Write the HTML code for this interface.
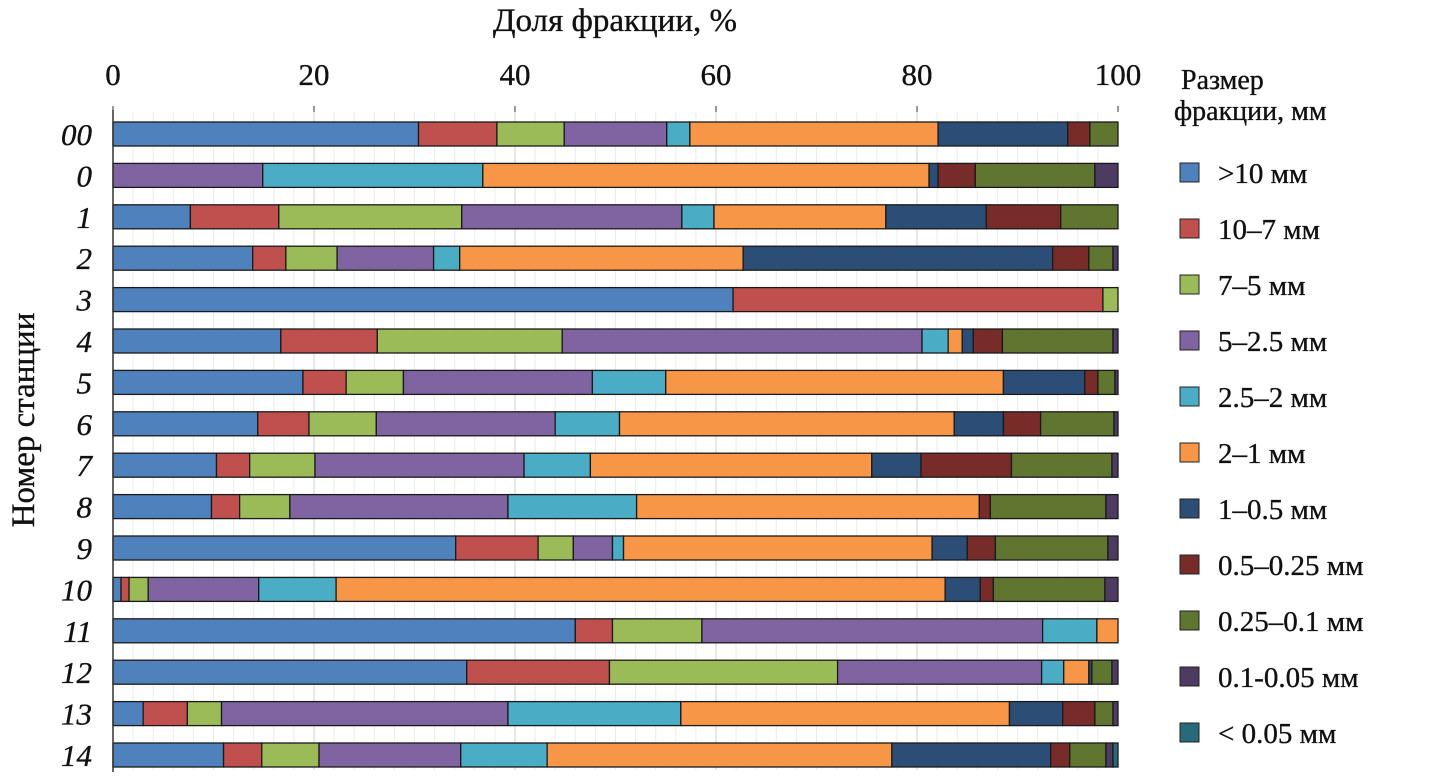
<!DOCTYPE html>
<html><head><meta charset="utf-8"><style>
html,body{margin:0;padding:0;background:#fff;width:1436px;height:780px;overflow:hidden}
svg text{font-family:"Liberation Serif",serif;fill:#111;stroke:#111;stroke-width:0.35}
</style></head><body>
<svg id="chart" width="1436" height="780">
<g id="grid"></g><g id="bars"></g><g id="axes"></g><g id="legend"></g>
</svg>
<script>
const stations=["00","0","1","2","3","4","5","6","7","8","9","10","11","12","13","14"];
const classes=[">10 мм","10–7 мм","7–5 мм","5–2.5 мм","2.5–2 мм","2–1 мм","1–0.5 мм","0.5–0.25 мм","0.25–0.1 мм","0.1-0.05 мм","< 0.05 мм"];
const colors=["#4f81bd","#c0504d","#9bbb59","#8064a2","#4bacc6","#f79646","#2c4d75","#772c2a","#5f7530","#4d3b62","#276a7c"];
const s00=[30.4,7.8,6.7,10.2,2.3,24.7,12.9,2.2,2.8,0,0];
const s0=[0,0,0,14.9,21.9,44.4,0.9,3.7,11.9,2.3,0];
const s1=[7.7,8.8,18.2,21.9,3.2,17.1,10.0,7.4,5.7,0,0];
const s2=[13.9,3.3,5.1,9.6,2.6,28.2,30.8,3.6,2.4,0.5,0];
const s3=[61.7,36.8,1.5,0,0,0,0,0,0,0,0];
const s4=[16.7,9.6,18.4,35.8,2.6,1.4,1.1,2.9,11.0,0.5,0];
const s5=[18.9,4.3,5.7,18.8,7.3,33.6,8.1,1.3,1.7,0.3,0];
const s6=[14.4,5.1,6.7,17.8,6.4,33.3,4.9,3.7,7.3,0.4,0];
const s7=[10.3,3.3,6.5,20.8,6.6,28.0,4.9,9.0,10.0,0.6,0];
const s8=[9.8,2.8,5.0,21.7,12.8,34.1,0,1.1,11.5,1.2,0];
const s9=[34.1,8.2,3.5,3.9,1.1,30.7,3.5,2.8,11.2,1.0,0];
const s10=[0.8,0.8,1.9,11.0,7.7,60.6,3.5,1.3,11.1,1.3,0];
const s11=[46.0,3.7,8.9,33.9,5.4,2.1,0,0,0,0,0];
const s12=[35.2,14.2,22.7,20.3,2.2,2.5,0.3,0,2.0,0.6,0];
const s13=[3.0,4.4,3.4,28.5,17.2,32.7,5.3,3.2,1.8,0.5,0];
const s14=[11.0,3.8,5.7,14.1,8.6,34.3,15.8,1.9,3.6,0.7,0.5];
const rows=[s00,s0,s1,s2,s3,s4,s5,s6,s7,s8,s9,s10,s11,s12,s13,s14];
const ticks=[0,20,40,60,80,100];

const NS="http://www.w3.org/2000/svg";
const X0=113,X1=1118,Y0=134,DY=41.4,BH=24;
const x=v=>X0+(X1-X0)*v/100;
const y=i=>Y0+i*DY;
function mk(tag,attrs,parent){const e=document.createElementNS(NS,tag);for(const k in attrs)e.setAttribute(k,attrs[k]);parent.appendChild(e);return e;}
const grid=document.getElementById('grid'),bars=document.getElementById('bars'),axes=document.getElementById('axes'),leg=document.getElementById('legend');
for(let v=2;v<100;v+=2){const l=mk('line',{x1:x(v),x2:x(v),y1:112,y2:770,stroke:v%20==0?'#d0d0d0':'#ececec','stroke-width':1},grid);

}
rows.forEach((r,i)=>{let c=0;const g=mk('g',{},bars);


r.forEach((v,k)=>{if(v<=0)return;const rc=mk('rect',{x:x(c),y:y(i)-BH/2,width:x(c+v)-x(c),height:BH,fill:colors[k],stroke:'#1a1a1a','stroke-width':1.3},g);


c+=v;});
const t=mk('text',{x:92,y:y(i)+11,'text-anchor':'end','font-size':31,'font-style':'italic'},axes);t.textContent=stations[i];

});
const al=mk('line',{x1:X0,x2:X0,y1:110,y2:772,stroke:'#333','stroke-width':1.5},axes);


ticks.forEach(v=>{const tk=mk('line',{x1:x(v),x2:x(v),y1:106,y2:112,stroke:'#333'},axes);


const t=mk('text',{x:x(v),y:85,'text-anchor':'middle','font-size':31},axes);t.textContent=v;

});
const xt=mk('text',{x:615,y:31,'text-anchor':'middle','font-size':33},axes);xt.textContent='Доля фракции, %';


const yt=mk('text',{x:0,y:0,'text-anchor':'middle','font-size':33,transform:'translate(34,420) rotate(-90)'},axes);yt.textContent='Номер станции';


const lt1=mk('text',{x:1181,y:89,'font-size':28},leg);lt1.textContent='Размер';


const lt2=mk('text',{x:1174,y:120,'font-size':28},leg);lt2.textContent='фракции, мм';


classes.forEach((c,k)=>{const yy=173+k*56;
const sq=mk('rect',{x:1180,y:yy-10,width:19,height:19,fill:colors[k],stroke:'#222','stroke-width':1},leg);


const t=mk('text',{x:1218,y:yy+10,'font-size':29},leg);t.textContent=c;

});
</script>
</body></html>
